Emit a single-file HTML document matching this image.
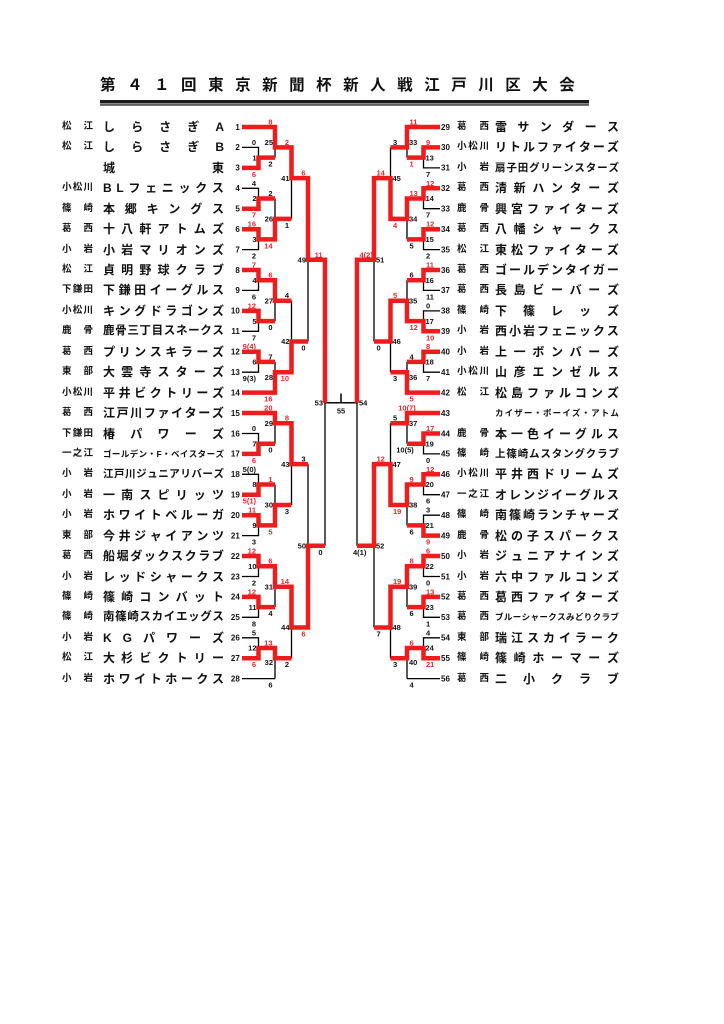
<!DOCTYPE html>
<html lang="ja"><head><meta charset="utf-8"><title>第41回東京新聞杯新人戦江戸川区大会</title>
<style>
html,body{margin:0;padding:0;background:#fff}
body{width:724px;height:1024px;position:relative;overflow:hidden;font-family:"Liberation Sans","Noto Sans CJK JP",sans-serif}
svg{position:absolute;left:0;top:0}
svg text{font-family:"Liberation Sans",sans-serif;font-weight:bold;font-size:7.5px;fill:#111}
svg .r{fill:#e8262c}
svg .L text{text-anchor:end}
svg .tn text{font-size:8px}
svg .mid{text-anchor:middle}
.p,.n,.t{position:absolute;display:flex;justify-content:space-between;align-items:center;height:16px;line-height:16px;font-weight:700;color:#111;white-space:nowrap}
.p{font-size:9.5px}
.n{font-size:12px}
.pl{left:62px;width:31px}
.nl{left:103px;width:121px}
.pr{left:457px;width:32px}
.nr{left:495px;width:124px}
.t{left:100px;top:77px;width:475px;height:18px;line-height:18px;font-size:15.5px;color:#111}
i{font-style:normal}
</style></head><body>
<svg width="724" height="1024" viewBox="0 0 724 1024">
<rect x="100" y="100" width="489" height="3.5" fill="#1a1a1a"/>
<rect x="100" y="104.3" width="489" height="1.3" fill="#1a1a1a"/>
<defs>
<path id="blk" fill="none" stroke="#000" stroke-width="1.3" d="M242 127H275M242 147.4H258.5V167.9H242M242 188.3H258.5V208.7H242M242 229.2H258.5V249.6H242M258.5 157.6H275M258.5 198.5H275M258.5 239.4H275M275 127V157.6M275 198.5V239.4M275 147.4H291.5M275 218.9H291.5M291.5 147.4V218.9M291.5 178.1H308M242 270H258.5V290.4H242M242 310.9H258.5V331.3H242M242 351.7H258.5V372.2H242M242 392.6H275M258.5 280.2H275M258.5 321.1H275M258.5 361.9H275M275 280.2V321.1M275 361.9V392.6M275 300.7H291.5M275 372.2H291.5M291.5 300.7V372.2M291.5 341.5H308M308 178.1V341.5M308 259.8H325M242 413H275M242 433.5H258.5V453.9H242M242 474.3H258.5V494.7H242M242 515.2H258.5V535.6H242M258.5 443.7H275M258.5 484.5H275M258.5 525.4H275M275 413V443.7M275 484.5V525.4M275 423.2H291.5M275 505H291.5M291.5 423.2V505M291.5 464.1H308M242 556H258.5V576.5H242M242 596.9H258.5V617.3H242M242 637.8H258.5V658.2H242M242 678.6H275M258.5 566.2H275M258.5 607.1H275M258.5 648H275M275 566.2V607.1M275 648V678.6M275 586.7H291.5M275 658.2H291.5M291.5 586.7V658.2M291.5 627.5H308M308 464.1V627.5M308 545.8H325M325 259.8V545.8M325 402.8H357M341 393.5V402.8"/>
</defs>
<use href="#blk"/>
<use href="#blk" transform="translate(682 0) scale(-1 1)"/>
<g fill="none" stroke="#ee1c1c" stroke-width="4.5">
<path d="M242 127H275V147.4H291.5V178.1H308V259.8H325V402.8"/>
<path d="M242 167.9H258.5V157.6H275"/>
<path d="M242 208.7H258.5V198.5H275"/>
<path d="M242 229.2H258.5V239.4H275V218.9H291.5"/>
<path d="M242 270H258.5V280.2H275V300.7H291.5"/>
<path d="M242 310.9H258.5V321.1H275"/>
<path d="M242 351.7H258.5V361.9H275"/>
<path d="M242 392.6H275V372.2H291.5V341.5H308"/>
<path d="M242 413H275V423.2H291.5V464.1H308"/>
<path d="M242 453.9H258.5V443.7H275"/>
<path d="M242 494.7H258.5V484.5H275"/>
<path d="M242 515.2H258.5V525.4H275V505H291.5"/>
<path d="M242 556H258.5V566.2H275V586.7H291.5V627.5H308V545.8H325"/>
<path d="M242 596.9H258.5V607.1H275"/>
<path d="M242 658.2H258.5V648H275V658.2H291.5"/>
</g>
<g fill="none" stroke="#ee1c1c" stroke-width="4.5" transform="translate(682 0) scale(-1 1)">
<path d="M242 127H275V147.4H291.5"/>
<path d="M242 147.4H258.5V157.6H275"/>
<path d="M242 188.3H258.5V198.5H275V218.9H291.5V178.1H308V259.8H325V402.8"/>
<path d="M242 229.2H258.5V239.4H275"/>
<path d="M242 270H258.5V280.2H275"/>
<path d="M242 331.3H258.5V321.1H275V300.7H291.5V341.5H308"/>
<path d="M242 351.7H258.5V361.9H275"/>
<path d="M242 392.6H275V372.2H291.5"/>
<path d="M242 413H275V423.2H291.5"/>
<path d="M242 433.5H258.5V443.7H275"/>
<path d="M242 474.3H258.5V484.5H275V505H291.5V464.1H308V545.8H325"/>
<path d="M242 535.6H258.5V525.4H275"/>
<path d="M242 556H258.5V566.2H275V586.7H291.5V627.5H308"/>
<path d="M242 596.9H258.5V607.1H275"/>
<path d="M242 658.2H258.5V648H275V658.2H291.5"/>
</g>

<g class="L tn">
<text x="239.8" y="129.8">1</text><text x="239.8" y="150.2">2</text><text x="239.8" y="170.7">3</text><text x="239.8" y="191.1">4</text><text x="239.8" y="211.5">5</text><text x="239.8" y="232">6</text><text x="239.8" y="252.4">7</text><text x="239.8" y="272.8">8</text><text x="239.8" y="293.2">9</text><text x="239.8" y="313.7">10</text><text x="239.8" y="334.1">11</text><text x="239.8" y="354.5">12</text><text x="239.8" y="375">13</text><text x="239.8" y="395.4">14</text><text x="239.8" y="415.8">15</text><text x="239.8" y="436.3">16</text><text x="239.8" y="456.7">17</text><text x="239.8" y="477.1">18</text><text x="239.8" y="497.5">19</text><text x="239.8" y="518">20</text><text x="239.8" y="538.4">21</text><text x="239.8" y="558.8">22</text><text x="239.8" y="579.3">23</text><text x="239.8" y="599.7">24</text><text x="239.8" y="620.1">25</text><text x="239.8" y="640.6">26</text><text x="239.8" y="661">27</text><text x="239.8" y="681.4">28</text>
</g>
<g class="tn">
<text x="441" y="129.8">29</text><text x="441" y="150.2">30</text><text x="441" y="170.7">31</text><text x="441" y="191.1">32</text><text x="441" y="211.5">33</text><text x="441" y="232">34</text><text x="441" y="252.4">35</text><text x="441" y="272.8">36</text><text x="441" y="293.2">37</text><text x="441" y="313.7">38</text><text x="441" y="334.1">39</text><text x="441" y="354.5">40</text><text x="441" y="375">41</text><text x="441" y="395.4">42</text><text x="441" y="415.8">43</text><text x="441" y="436.3">44</text><text x="441" y="456.7">45</text><text x="441" y="477.1">46</text><text x="441" y="497.5">47</text><text x="441" y="518">48</text><text x="441" y="538.4">49</text><text x="441" y="558.8">50</text><text x="441" y="579.3">51</text><text x="441" y="599.7">52</text><text x="441" y="620.1">53</text><text x="441" y="640.6">54</text><text x="441" y="661">55</text><text x="441" y="681.4">56</text>
</g>

<g class="L">
<text x="256.5" y="160.3">1</text><text x="256" y="144.9">0</text><text class="r" x="256" y="176.9">6</text>
<text x="256.5" y="201.2">2</text><text x="256" y="185.8">4</text><text class="r" x="256" y="217.7">7</text>
<text x="256.5" y="242.1">3</text><text class="r" x="256" y="226.7">16</text><text x="256" y="258.6">2</text>
<text x="273" y="145">25</text><text class="r" x="272.5" y="124.5">8</text><text x="272.5" y="166.6">2</text>
<text x="273" y="221.6">26</text><text x="272.5" y="196">2</text><text class="r" x="272.5" y="248.4">14</text>
<text x="289.5" y="180.8">41</text><text class="r" x="289" y="144.9">2</text><text x="289" y="227.9">1</text>
<text x="256.5" y="282.9">4</text><text class="r" x="256" y="267.5">7</text><text x="256" y="299.4">6</text>
<text x="256.5" y="323.8">5</text><text class="r" x="256" y="308.4">12</text><text x="256" y="340.3">7</text>
<text x="256.5" y="364.6">6</text><text class="r" x="256" y="349.2">9(4)</text><text x="256" y="381.2">9(3)</text>
<text x="273" y="303.4">27</text><text class="r" x="272.5" y="277.7">6</text><text x="272.5" y="330.1">0</text>
<text x="273" y="380">28</text><text x="272.5" y="359.4">7</text><text class="r" x="272.5" y="401.6">16</text>
<text x="289.5" y="344.2">42</text><text x="289" y="298.2">4</text><text class="r" x="289" y="381.2">10</text>
<text x="306" y="262.5">49</text><text class="r" x="305.5" y="175.6">6</text><text x="305.5" y="350.5">0</text>
<text x="256.5" y="446.4">7</text><text x="256" y="431">0</text><text class="r" x="256" y="462.9">6</text>
<text x="256.5" y="487.2">8</text><text x="256" y="471.8">5(0)</text><text class="r" x="256" y="503.7">5(1)</text>
<text x="256.5" y="528.1">9</text><text class="r" x="256" y="512.7">11</text><text x="256" y="544.6">3</text>
<text x="273" y="425.9">29</text><text class="r" x="272.5" y="410.5">20</text><text x="272.5" y="452.7">0</text>
<text x="273" y="507.7">30</text><text class="r" x="272.5" y="482">1</text><text class="r" x="272.5" y="534.4">5</text>
<text x="289.5" y="466.8">43</text><text class="r" x="289" y="420.7">8</text><text x="289" y="514">3</text>
<text x="256.5" y="568.9">10</text><text class="r" x="256" y="553.5">12</text><text x="256" y="585.5">2</text>
<text x="256.5" y="609.8">11</text><text class="r" x="256" y="594.4">12</text><text x="256" y="626.3">8</text>
<text x="256.5" y="650.7">12</text><text x="256" y="635.3">5</text><text class="r" x="256" y="667.2">6</text>
<text x="273" y="589.4">31</text><text class="r" x="272.5" y="563.7">6</text><text x="272.5" y="616.1">4</text>
<text x="273" y="665">32</text><text class="r" x="272.5" y="645.5">13</text><text x="272.5" y="687.6">6</text>
<text x="289.5" y="630.2">44</text><text class="r" x="289" y="584.2">14</text><text x="289" y="667.2">2</text>
<text x="306" y="548.5">50</text><text x="305.5" y="461.6">3</text><text class="r" x="305.5" y="636.5">6</text>
<text x="323" y="405.5">53</text><text class="r" x="322.5" y="257.3">11</text><text x="322.5" y="554.8">0</text>
</g>

<g>
<text x="425.5" y="160.3">13</text><text class="r" x="426" y="144.9">9</text><text x="426" y="176.9">7</text>
<text x="425.5" y="201.2">14</text><text class="r" x="426" y="185.8">12</text><text x="426" y="217.7">7</text>
<text x="425.5" y="242.1">15</text><text class="r" x="426" y="226.7">12</text><text x="426" y="258.6">2</text>
<text x="409" y="145">33</text><text class="r" x="409.5" y="124.5">11</text><text class="r" x="409.5" y="166.6">1</text>
<text x="409" y="221.6">34</text><text class="r" x="409.5" y="196">13</text><text x="409.5" y="248.4">5</text>
<text x="392.5" y="180.8">45</text><text x="393" y="144.9">3</text><text class="r" x="393" y="227.9">4</text>
<text x="425.5" y="282.9">16</text><text class="r" x="426" y="267.5">11</text><text x="426" y="299.4">11</text>
<text x="425.5" y="323.8">17</text><text x="426" y="308.4">0</text><text class="r" x="426" y="340.3">10</text>
<text x="425.5" y="364.6">18</text><text class="r" x="426" y="349.2">8</text><text x="426" y="381.2">7</text>
<text x="409" y="303.4">35</text><text x="409.5" y="277.7">6</text><text class="r" x="409.5" y="330.1">12</text>
<text x="409" y="380">36</text><text x="409.5" y="359.4">4</text><text class="r" x="409.5" y="401.6">5</text>
<text x="392.5" y="344.2">46</text><text class="r" x="393" y="298.2">5</text><text x="393" y="381.2">3</text>
<text x="376" y="262.5">51</text><text class="r" x="376.5" y="175.6">14</text><text x="376.5" y="350.5">0</text>
<text x="425.5" y="446.4">19</text><text class="r" x="426" y="431">17</text><text x="426" y="462.9">0</text>
<text x="425.5" y="487.2">20</text><text class="r" x="426" y="471.8">12</text><text x="426" y="503.7">6</text>
<text x="425.5" y="528.1">21</text><text x="426" y="512.7">3</text><text class="r" x="426" y="544.6">9</text>
<text x="409" y="425.9">37</text><text class="r mid" x="407" y="410.5">10(7)</text><text class="mid" x="405" y="452.7">10(5)</text>
<text x="409" y="507.7">38</text><text class="r" x="409.5" y="482">9</text><text x="409.5" y="534.4">6</text>
<text x="392.5" y="466.8">47</text><text x="393" y="420.7">5</text><text class="r" x="393" y="514">19</text>
<text x="425.5" y="568.9">22</text><text class="r" x="426" y="553.5">6</text><text x="426" y="585.5">0</text>
<text x="425.5" y="609.8">23</text><text class="r" x="426" y="594.4">13</text><text x="426" y="626.3">1</text>
<text x="425.5" y="650.7">24</text><text x="426" y="635.3">4</text><text class="r" x="426" y="667.2">21</text>
<text x="409" y="589.4">39</text><text class="r" x="409.5" y="563.7">8</text><text x="409.5" y="616.1">6</text>
<text x="409" y="665">40</text><text class="r" x="409.5" y="645.5">6</text><text x="409.5" y="687.6">4</text>
<text x="392.5" y="630.2">48</text><text class="r" x="393" y="584.2">19</text><text x="393" y="667.2">3</text>
<text x="376" y="548.5">52</text><text class="r" x="376.5" y="461.6">12</text><text x="376.5" y="636.5">7</text>
<text x="359" y="405.5">54</text><text class="r" x="359.5" y="257.3">4(2)</text><text x="353" y="554.8">4(1)</text>
<text class="mid" x="341" y="413.5">55</text>
</g>
</svg>

<div class="t"><i>第</i><i>４</i><i>１</i><i>回</i><i>東</i><i>京</i><i>新</i><i>聞</i><i>杯</i><i>新</i><i>人</i><i>戦</i><i>江</i><i>戸</i><i>川</i><i>区</i><i>大</i><i>会</i></div>

<div class="p pl" style="top:119px"><i>松</i><i>江</i></div><div class="n nl" style="top:119px"><i>し</i><i>ら</i><i>さ</i><i>ぎ</i><i>A</i></div>
<div class="p pl" style="top:139.4px"><i>松</i><i>江</i></div><div class="n nl" style="top:139.4px"><i>し</i><i>ら</i><i>さ</i><i>ぎ</i><i>B</i></div>
<div class="n nl" style="top:159.9px"><i>城</i><i>東</i></div>
<div class="p pl" style="top:180.3px"><i>小</i><i>松</i><i>川</i></div><div class="n nl" style="top:180.3px"><i>B</i><i>L</i><i>フ</i><i>ェ</i><i>ニ</i><i>ッ</i><i>ク</i><i>ス</i></div>
<div class="p pl" style="top:200.7px"><i>篠</i><i>崎</i></div><div class="n nl" style="top:200.7px"><i>本</i><i>郷</i><i>キ</i><i>ン</i><i>グ</i><i>ス</i></div>
<div class="p pl" style="top:221.2px"><i>葛</i><i>西</i></div><div class="n nl" style="top:221.2px"><i>十</i><i>八</i><i>軒</i><i>ア</i><i>ト</i><i>ム</i><i>ズ</i></div>
<div class="p pl" style="top:241.6px"><i>小</i><i>岩</i></div><div class="n nl" style="top:241.6px"><i>小</i><i>岩</i><i>マ</i><i>リ</i><i>オ</i><i>ン</i><i>ズ</i></div>
<div class="p pl" style="top:262px"><i>松</i><i>江</i></div><div class="n nl" style="top:262px"><i>貞</i><i>明</i><i>野</i><i>球</i><i>ク</i><i>ラ</i><i>ブ</i></div>
<div class="p pl" style="top:282.4px"><i>下</i><i>鎌</i><i>田</i></div><div class="n nl" style="top:282.4px"><i>下</i><i>鎌</i><i>田</i><i>イ</i><i>ー</i><i>グ</i><i>ル</i><i>ス</i></div>
<div class="p pl" style="top:302.9px"><i>小</i><i>松</i><i>川</i></div><div class="n nl" style="top:302.9px"><i>キ</i><i>ン</i><i>グ</i><i>ド</i><i>ラ</i><i>ゴ</i><i>ン</i><i>ズ</i></div>
<div class="p pl" style="top:323.3px"><i>鹿</i><i>骨</i></div><div class="n nl" style="top:323.3px;font-size:11.5px"><i>鹿</i><i>骨</i><i>三</i><i>丁</i><i>目</i><i>ス</i><i>ネ</i><i>ー</i><i>ク</i><i>ス</i></div>
<div class="p pl" style="top:343.7px"><i>葛</i><i>西</i></div><div class="n nl" style="top:343.7px"><i>プ</i><i>リ</i><i>ン</i><i>ス</i><i>キ</i><i>ラ</i><i>ー</i><i>ズ</i></div>
<div class="p pl" style="top:364.2px"><i>東</i><i>部</i></div><div class="n nl" style="top:364.2px"><i>大</i><i>雲</i><i>寺</i><i>ス</i><i>タ</i><i>ー</i><i>ズ</i></div>
<div class="p pl" style="top:384.6px"><i>小</i><i>松</i><i>川</i></div><div class="n nl" style="top:384.6px"><i>平</i><i>井</i><i>ビ</i><i>ク</i><i>ト</i><i>リ</i><i>ー</i><i>ズ</i></div>
<div class="p pl" style="top:405px"><i>葛</i><i>西</i></div><div class="n nl" style="top:405px"><i>江</i><i>戸</i><i>川</i><i>フ</i><i>ァ</i><i>イ</i><i>タ</i><i>ー</i><i>ズ</i></div>
<div class="p pl" style="top:425.5px"><i>下</i><i>鎌</i><i>田</i></div><div class="n nl" style="top:425.5px"><i>椿</i><i>パ</i><i>ワ</i><i>ー</i><i>ズ</i></div>
<div class="p pl" style="top:445.9px"><i>一</i><i>之</i><i>江</i></div><div class="n nl" style="top:445.9px;font-size:8.5px"><i>ゴ</i><i>ー</i><i>ル</i><i>デ</i><i>ン</i><i>・</i><i>F</i><i>・</i><i>ベ</i><i>イ</i><i>ス</i><i>タ</i><i>ー</i><i>ズ</i></div>
<div class="p pl" style="top:466.3px"><i>小</i><i>岩</i></div><div class="n nl" style="top:466.3px;font-size:10.5px"><i>江</i><i>戸</i><i>川</i><i>ジ</i><i>ュ</i><i>ニ</i><i>ア</i><i>リ</i><i>バ</i><i>ー</i><i>ズ</i></div>
<div class="p pl" style="top:486.7px"><i>小</i><i>岩</i></div><div class="n nl" style="top:486.7px"><i>一</i><i>南</i><i>ス</i><i>ピ</i><i>リ</i><i>ッ</i><i>ツ</i></div>
<div class="p pl" style="top:507.2px"><i>小</i><i>岩</i></div><div class="n nl" style="top:507.2px"><i>ホ</i><i>ワ</i><i>イ</i><i>ト</i><i>ベ</i><i>ル</i><i>ー</i><i>ガ</i></div>
<div class="p pl" style="top:527.6px"><i>東</i><i>部</i></div><div class="n nl" style="top:527.6px"><i>今</i><i>井</i><i>ジ</i><i>ャ</i><i>イ</i><i>ア</i><i>ン</i><i>ツ</i></div>
<div class="p pl" style="top:548px"><i>葛</i><i>西</i></div><div class="n nl" style="top:548px"><i>船</i><i>堀</i><i>ダ</i><i>ッ</i><i>ク</i><i>ス</i><i>ク</i><i>ラ</i><i>ブ</i></div>
<div class="p pl" style="top:568.5px"><i>小</i><i>岩</i></div><div class="n nl" style="top:568.5px"><i>レ</i><i>ッ</i><i>ド</i><i>シ</i><i>ャ</i><i>ー</i><i>ク</i><i>ス</i></div>
<div class="p pl" style="top:588.9px"><i>篠</i><i>崎</i></div><div class="n nl" style="top:588.9px"><i>篠</i><i>崎</i><i>コ</i><i>ン</i><i>バ</i><i>ッ</i><i>ト</i></div>
<div class="p pl" style="top:609.3px"><i>篠</i><i>崎</i></div><div class="n nl" style="top:609.3px;font-size:11.5px"><i>南</i><i>篠</i><i>崎</i><i>ス</i><i>カ</i><i>イ</i><i>エ</i><i>ッ</i><i>グ</i><i>ス</i></div>
<div class="p pl" style="top:629.8px"><i>小</i><i>岩</i></div><div class="n nl" style="top:629.8px"><i>K</i><i>G</i><i>パ</i><i>ワ</i><i>ー</i><i>ズ</i></div>
<div class="p pl" style="top:650.2px"><i>松</i><i>江</i></div><div class="n nl" style="top:650.2px"><i>大</i><i>杉</i><i>ビ</i><i>ク</i><i>ト</i><i>リ</i><i>ー</i></div>
<div class="p pl" style="top:670.6px"><i>小</i><i>岩</i></div><div class="n nl" style="top:670.6px"><i>ホ</i><i>ワ</i><i>イ</i><i>ト</i><i>ホ</i><i>ー</i><i>ク</i><i>ス</i></div>

<div class="p pr" style="top:119px"><i>葛</i><i>西</i></div><div class="n nr" style="top:119px"><i>雷</i><i>サ</i><i>ン</i><i>ダ</i><i>ー</i><i>ス</i></div>
<div class="p pr" style="top:139.4px"><i>小</i><i>松</i><i>川</i></div><div class="n nr" style="top:139.4px"><i>リ</i><i>ト</i><i>ル</i><i>フ</i><i>ァ</i><i>イ</i><i>タ</i><i>ー</i><i>ズ</i></div>
<div class="p pr" style="top:159.9px"><i>小</i><i>岩</i></div><div class="n nr" style="top:159.9px;font-size:10.5px"><i>扇</i><i>子</i><i>田</i><i>グ</i><i>リ</i><i>ー</i><i>ン</i><i>ス</i><i>タ</i><i>ー</i><i>ズ</i></div>
<div class="p pr" style="top:180.3px"><i>葛</i><i>西</i></div><div class="n nr" style="top:180.3px"><i>清</i><i>新</i><i>ハ</i><i>ン</i><i>タ</i><i>ー</i><i>ズ</i></div>
<div class="p pr" style="top:200.7px"><i>鹿</i><i>骨</i></div><div class="n nr" style="top:200.7px"><i>興</i><i>宮</i><i>フ</i><i>ァ</i><i>イ</i><i>タ</i><i>ー</i><i>ズ</i></div>
<div class="p pr" style="top:221.2px"><i>葛</i><i>西</i></div><div class="n nr" style="top:221.2px"><i>八</i><i>幡</i><i>シ</i><i>ャ</i><i>ー</i><i>ク</i><i>ス</i></div>
<div class="p pr" style="top:241.6px"><i>松</i><i>江</i></div><div class="n nr" style="top:241.6px"><i>東</i><i>松</i><i>フ</i><i>ァ</i><i>イ</i><i>タ</i><i>ー</i><i>ズ</i></div>
<div class="p pr" style="top:262px"><i>葛</i><i>西</i></div><div class="n nr" style="top:262px"><i>ゴ</i><i>ー</i><i>ル</i><i>デ</i><i>ン</i><i>タ</i><i>イ</i><i>ガ</i><i>ー</i></div>
<div class="p pr" style="top:282.4px"><i>葛</i><i>西</i></div><div class="n nr" style="top:282.4px"><i>長</i><i>島</i><i>ビ</i><i>ー</i><i>バ</i><i>ー</i><i>ズ</i></div>
<div class="p pr" style="top:302.9px"><i>篠</i><i>崎</i></div><div class="n nr" style="top:302.9px"><i>下</i><i>篠</i><i>レ</i><i>ッ</i><i>ズ</i></div>
<div class="p pr" style="top:323.3px"><i>小</i><i>岩</i></div><div class="n nr" style="top:323.3px"><i>西</i><i>小</i><i>岩</i><i>フ</i><i>ェ</i><i>ニ</i><i>ッ</i><i>ク</i><i>ス</i></div>
<div class="p pr" style="top:343.7px"><i>小</i><i>岩</i></div><div class="n nr" style="top:343.7px"><i>上</i><i>一</i><i>ボ</i><i>ン</i><i>バ</i><i>ー</i><i>ズ</i></div>
<div class="p pr" style="top:364.2px"><i>小</i><i>松</i><i>川</i></div><div class="n nr" style="top:364.2px"><i>山</i><i>彦</i><i>エ</i><i>ン</i><i>ゼ</i><i>ル</i><i>ス</i></div>
<div class="p pr" style="top:384.6px"><i>松</i><i>江</i></div><div class="n nr" style="top:384.6px"><i>松</i><i>島</i><i>フ</i><i>ァ</i><i>ル</i><i>コ</i><i>ン</i><i>ズ</i></div>
<div class="n nr" style="top:405px;font-size:8.5px"><i>カ</i><i>イ</i><i>ザ</i><i>ー</i><i>・</i><i>ボ</i><i>ー</i><i>イ</i><i>ズ</i><i>・</i><i>ア</i><i>ト</i><i>ム</i></div>
<div class="p pr" style="top:425.5px"><i>鹿</i><i>骨</i></div><div class="n nr" style="top:425.5px"><i>本</i><i>一</i><i>色</i><i>イ</i><i>ー</i><i>グ</i><i>ル</i><i>ス</i></div>
<div class="p pr" style="top:445.9px"><i>篠</i><i>崎</i></div><div class="n nr" style="top:445.9px;font-size:10.5px"><i>上</i><i>篠</i><i>崎</i><i>ム</i><i>ス</i><i>タ</i><i>ン</i><i>グ</i><i>ク</i><i>ラ</i><i>ブ</i></div>
<div class="p pr" style="top:466.3px"><i>小</i><i>松</i><i>川</i></div><div class="n nr" style="top:466.3px"><i>平</i><i>井</i><i>西</i><i>ド</i><i>リ</i><i>ー</i><i>ム</i><i>ズ</i></div>
<div class="p pr" style="top:486.7px"><i>一</i><i>之</i><i>江</i></div><div class="n nr" style="top:486.7px"><i>オ</i><i>レ</i><i>ン</i><i>ジ</i><i>イ</i><i>ー</i><i>グ</i><i>ル</i><i>ス</i></div>
<div class="p pr" style="top:507.2px"><i>篠</i><i>崎</i></div><div class="n nr" style="top:507.2px"><i>南</i><i>篠</i><i>崎</i><i>ラ</i><i>ン</i><i>チ</i><i>ャ</i><i>ー</i><i>ズ</i></div>
<div class="p pr" style="top:527.6px"><i>鹿</i><i>骨</i></div><div class="n nr" style="top:527.6px"><i>松</i><i>の</i><i>子</i><i>ス</i><i>パ</i><i>ー</i><i>ク</i><i>ス</i></div>
<div class="p pr" style="top:548px"><i>小</i><i>岩</i></div><div class="n nr" style="top:548px"><i>ジ</i><i>ュ</i><i>ニ</i><i>ア</i><i>ナ</i><i>イ</i><i>ン</i><i>ズ</i></div>
<div class="p pr" style="top:568.5px"><i>小</i><i>岩</i></div><div class="n nr" style="top:568.5px"><i>六</i><i>中</i><i>フ</i><i>ァ</i><i>ル</i><i>コ</i><i>ン</i><i>ズ</i></div>
<div class="p pr" style="top:588.9px"><i>葛</i><i>西</i></div><div class="n nr" style="top:588.9px"><i>葛</i><i>西</i><i>フ</i><i>ァ</i><i>イ</i><i>タ</i><i>ー</i><i>ズ</i></div>
<div class="p pr" style="top:609.3px"><i>葛</i><i>西</i></div><div class="n nr" style="top:609.3px;font-size:8.5px"><i>ブ</i><i>ル</i><i>ー</i><i>シ</i><i>ャ</i><i>ー</i><i>ク</i><i>ス</i><i>み</i><i>ど</i><i>り</i><i>ク</i><i>ラ</i><i>ブ</i></div>
<div class="p pr" style="top:629.8px"><i>東</i><i>部</i></div><div class="n nr" style="top:629.8px"><i>瑞</i><i>江</i><i>ス</i><i>カ</i><i>イ</i><i>ラ</i><i>ー</i><i>ク</i></div>
<div class="p pr" style="top:650.2px"><i>篠</i><i>崎</i></div><div class="n nr" style="top:650.2px"><i>篠</i><i>崎</i><i>ホ</i><i>ー</i><i>マ</i><i>ー</i><i>ズ</i></div>
<div class="p pr" style="top:670.6px"><i>葛</i><i>西</i></div><div class="n nr" style="top:670.6px"><i>二</i><i>小</i><i>ク</i><i>ラ</i><i>ブ</i></div>
</body></html>
